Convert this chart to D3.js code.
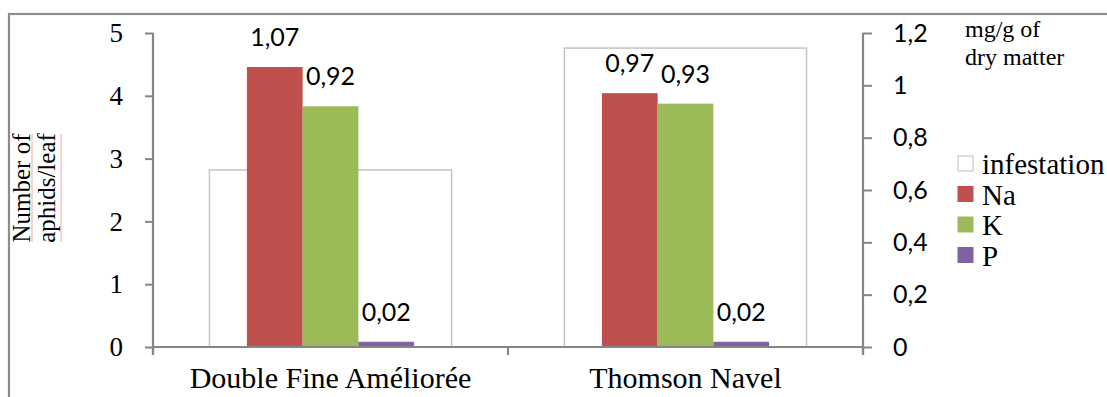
<!DOCTYPE html>
<html><head><meta charset="utf-8">
<script src="https://cdn.jsdelivr.net/npm/d3@7"></script>
<style>
html,body{margin:0;padding:0;background:#fff;}
svg{display:block;}
</style></head>
<body>
<svg id="chart" width="1107" height="397"></svg>
<script>
// ---- data ----
const categories = ["Double Fine Améliorée", "Thomson Navel"];
const infestation = [2.82, 4.76];           // aphids/leaf (left axis)
const mineralSeries = ["Na", "K", "P"];
const naValues = [1.07, 0.97];               // mg/g dry matter (right axis)
const kValues = [0.92, 0.93];
const pValues = [0.02, 0.02];
const leftTicks = [0, 1, 2, 3, 4, 5];
const leftTickLabels = ["0", "1", "2", "3", "4", "5"];
const rightTicks = [0, 0.2, 0.4, 0.6, 0.8, 1.0, 1.2];
const rightTickLabels = ["0", "0,2", "0,4", "0,6", "0,8", "1", "1,2"];
const legendLabels = ["infestation", "Na", "K", "P"];
const colors = {infestation: "#ffffff", Na: "#C0504D", K: "#9BBB59", P: "#8064A2"};

const minerals = {Na: naValues, K: kValues, P: pValues};
const locale = d3.formatLocale({decimal: ",", thousands: " ", grouping: [3], currency: ["", ""]});
const fmt2 = locale.format(".2f");

const svg = d3.select("#chart");
const serif = "'Liberation Serif', 'Times New Roman', serif";
const sans = "Lato, 'Open Sans', sans-serif";
const axisColor = "#868686";

// frame
svg.append("rect").attr("x", 9).attr("y", 14).attr("width", 1300).attr("height", 600)
  .attr("fill", "none").attr("stroke", "#8c8c8c").attr("stroke-width", 2.2);

const x0 = 153, x1 = 863, yBase = 347, yTop = 33;
const x = d3.scaleBand().domain(categories).range([x0, x1]).paddingInner(0).paddingOuter(0);
const yL = d3.scaleLinear().domain([0, 5]).range([yBase, yTop]);
const yR = d3.scaleLinear().domain([0, 1.2]).range([yBase, yTop]);

// infestation bars (behind)
const infW = x.bandwidth() * 0.682;
svg.append("g").selectAll("rect").data(categories).join("rect")
  .attr("x", d => x(d) + (x.bandwidth() - infW) / 2)
  .attr("y", (d, i) => yL(infestation[i]))
  .attr("width", infW)
  .attr("height", (d, i) => yBase - yL(infestation[i]))
  .attr("fill", colors.infestation).attr("stroke", "#c4c4c4").attr("stroke-width", 1.5);

// mineral bars
const groupW = x.bandwidth() * 0.471;
const xs = d3.scaleBand().domain(mineralSeries).range([0, groupW]).padding(0);
categories.forEach((c, i) => {
  const gx = x(c) + (x.bandwidth() - groupW) / 2;
  const g = svg.append("g").attr("transform", `translate(${gx},0)`);
  mineralSeries.forEach(s => {
    const v = minerals[s][i];
    g.append("rect").attr("x", xs(s)).attr("y", yR(v))
      .attr("width", xs.bandwidth()).attr("height", yBase - yR(v))
      .attr("fill", colors[s]);
    g.append("text").attr("x", xs(s) + xs.bandwidth() / 2).attr("y", yR(v) - 21)
      .attr("text-anchor", "middle").attr("font-family", sans).attr("font-size", 25)
      .attr("fill", "#000").text(fmt2(v));
  });
});

// left axis
const axL = svg.append("g").attr("transform", `translate(${x0},0)`)
  .call(d3.axisLeft(yL).tickValues(leftTicks).tickSize(8).tickPadding(22)
    .tickFormat((d, i) => leftTickLabels[i]));
axL.select(".domain").remove();
axL.selectAll("line").attr("stroke", axisColor).attr("stroke-width", 2);
axL.selectAll("text").attr("font-family", serif).attr("font-size", 27).attr("fill", "#000");

// right axis
const axR = svg.append("g").attr("transform", `translate(${x1},0)`)
  .call(d3.axisRight(yR).tickValues(rightTicks).tickSize(9).tickPadding(21)
    .tickFormat((d, i) => rightTickLabels[i]));
axR.select(".domain").remove();
axR.selectAll("line").attr("stroke", axisColor).attr("stroke-width", 2);
axR.selectAll("text").attr("font-family", sans).attr("font-size", 25).attr("fill", "#000");

// axis lines
const axisG = svg.append("g").attr("stroke", axisColor).attr("stroke-width", 2.2).attr("fill", "none");
axisG.append("line").attr("x1", x0).attr("x2", x0).attr("y1", yTop).attr("y2", yBase + 8);
axisG.append("line").attr("x1", x1).attr("x2", x1).attr("y1", yTop).attr("y2", yBase + 8);
axisG.append("line").attr("x1", x0).attr("x2", x1).attr("y1", yBase).attr("y2", yBase);
const bounds = categories.map(c => x(c)).concat([x1]);
axisG.selectAll("line.ct").data(bounds).join("line").attr("class", "ct")
  .attr("x1", d => d).attr("x2", d => d).attr("y1", yBase).attr("y2", yBase + 8);

// category labels
svg.append("g").selectAll("text").data(categories).join("text")
  .attr("x", d => x(d) + x.bandwidth() / 2).attr("y", 388)
  .attr("text-anchor", "middle").attr("font-family", serif).attr("font-size", 30)
  .attr("fill", "#000").text(d => d);

// left axis title
const yt = svg.append("g").attr("transform", "translate(0,188) rotate(-90)");
[["Number of", 30, 32], ["aphids/leaf", 55, 61]].forEach(([t, bx, ux]) => {
  yt.append("text").attr("x", 0).attr("y", bx).attr("text-anchor", "middle")
    .attr("font-family", serif).attr("font-size", 25).attr("fill", "#000").text(t);
  yt.append("line").attr("x1", -54).attr("x2", 54).attr("y1", ux).attr("y2", ux)
    .attr("stroke", "#f3a5a5").attr("stroke-width", 1);
});

// right unit label
[["mg/g of", 37], ["dry matter", 65]].forEach(([t, y]) => {
  svg.append("text").attr("x", 965).attr("y", y).attr("font-family", serif)
    .attr("font-size", 24).attr("fill", "#000").text(t);
});

// legend
const lg = svg.append("g");
legendLabels.forEach((l, i) => {
  const by = 174 + i * 30.5;
  lg.append("rect").attr("x", 958).attr("y", by - 18).attr("width", 15).attr("height", 15)
    .attr("fill", colors[l]).attr("stroke", l === "infestation" ? "#bdbdbd" : colors[l])
    .attr("stroke-width", 1);
  lg.append("text").attr("x", 982).attr("y", by).attr("font-family", serif)
    .attr("font-size", 29).attr("fill", "#000").text(l);
});
</script>
</body></html>
